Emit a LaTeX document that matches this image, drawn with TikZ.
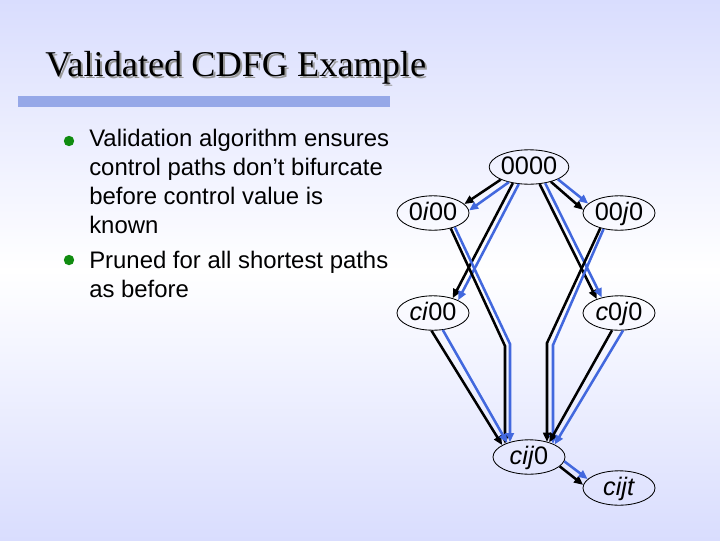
\documentclass[tikz,border=0pt]{standalone}
\usepackage{fontspec}
\setmainfont{Liberation Serif}
\setsansfont{Liberation Sans}
\usetikzlibrary{arrows.meta,calc,shapes.geometric}
\definecolor{cdfgblue}{RGB}{66,104,222}
\definecolor{cdfgbar}{RGB}{150,168,232}
\definecolor{cdfglav}{RGB}{217,221,254}
\definecolor{cdfggreen}{RGB}{16,140,16}

\begin{document}
\begin{tikzpicture}[x=0.025cm, y=-0.025cm,
      state/.style={ellipse, draw=black, line width=0.6pt, minimum width=1.8cm, minimum height=0.86cm, inner sep=0pt, text height=1.0em, text depth=0pt, font=\sffamily\fontsize{18}{20}\selectfont},
      blk/.style={-{Triangle[length=6.5pt, width=5.5pt]}, line width=1.8pt, color=black},
      blu/.style={-{Triangle[length=6.5pt, width=5.5pt]}, line width=1.8pt, color=cdfgblue},
      dot/.style={circle, fill=cdfggreen, inner sep=0pt, minimum size=0.26cm},
      bodytext/.style={align=left, inner sep=0pt, font=\sffamily\fontsize{17}{20.6}\selectfont}
    ]
      \useasboundingbox (0,0) rectangle (720,540);
      % Background
      \shade[top color=cdfglav, bottom color=white] (0,0) rectangle (720,271);
      \shade[top color=white, bottom color=cdfglav] (0,270) rectangle (720,540);

      % Title and bar
      \node[anchor=base west, inner sep=0pt, text=black!40, font=\fontsize{25.8}{30}\selectfont] (titleshadow) at (47,78) {Validated CDFG Example};
      \node[anchor=base west, inner sep=0pt, font=\fontsize{25.8}{30}\selectfont] (title) at (45,76) {Validated CDFG Example};
      \fill[cdfgbar] (18,96) rectangle (390,107);

      % Bullets (base anchor = last line)
      \node[dot] (dot1) at (69,141) {};
      \node[dot] (dot2) at (69,260) {};
      \node[bodytext, anchor=base west] (item1) at (89,233) {Validation algorithm ensures\\control paths don’t bifurcate\\before control value is\\known};
      \node[bodytext, anchor=base west] (item2) at (89,297) {Pruned for all shortest paths\\as before};

      % States
      \node[state] (s0000) at (529,167) {0000};
      \node[state] (s0i00) at (433,213) {0\textit{i}00};
      \node[state] (s00j0) at (619,213) {00\textit{j}0};
      \node[state] (sci00) at (433,313) {\textit{ci}00};
      \node[state] (sc0j0) at (619,313) {\textit{c}0\textit{j}0};
      \node[state] (scij0) at (529,457) {\textit{cij}0};
      \node[state] (scijt) at (619,488) {\textit{cijt}};

      % Bends
      \coordinate (bendLk) at (505,346);
      \coordinate (bendLb) at (510,344);
      \coordinate (bendRk) at (547,343);
      \coordinate (bendRb) at (553,345);

      % Paths
      \draw[blk] (s0000.-156) -- (s0i00.16);
      \draw[blu] (s0000.-143) -- (s0i00.4);
      \draw[blk] (s0000.-34) -- (s00j0.175);
      \draw[blu] (s0000.-23) -- (s00j0.163);
      \draw[blk] (s0000.-135) -- (sci00.37);
      \draw[blu] (s0000.-121) -- (sci00.27);
      \draw[blk] (s0000.-58) -- (sc0j0.148);
      \draw[blu] (s0000.-45) -- (sc0j0.138);

      \draw[blk] (s0i00.-41) -- (bendLk) -- (bendLk |- scij0.152);
      \draw[blu] (s0i00.-33) -- (bendLb) -- (bendLb |- scij0.143);
      \draw[blk] (s00j0.-141) -- (bendRk) -- (bendRk |- scij0.39);
      \draw[blu] (s00j0.-134) -- (bendRb) -- (bendRb |- scij0.28);

      \draw[blk] (sci00.-95) -- (scij0.156);
      \draw[blu] (sci00.-60) -- (scij0.147);
      \draw[blk] (sc0j0.-112) -- (scij0.36);
      \draw[blu] (sc0j0.-77) -- (scij0.26);

      \draw[blk] (scij0.-17) -- (scijt.175);
      \draw[blu] (scij0.-7) -- (scijt.164);
    \end{tikzpicture}
\end{document}
